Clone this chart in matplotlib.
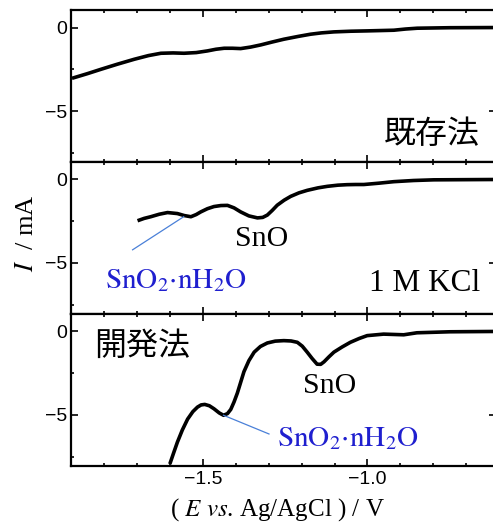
import matplotlib
matplotlib.use("Agg")
import matplotlib.pyplot as plt
from matplotlib.ticker import MultipleLocator
import numpy as np

plt.rcParams["mathtext.fontset"] = "stix"
plt.rcParams["font.family"] = ["Liberation Sans", "DejaVu Sans"]

# Curve data: potential (V vs Ag/AgCl) and current (mA)
e_existing = [-1.897, -1.85, -1.809, -1.76, -1.708, -1.665, -1.627, -1.59, -1.557, -1.52,
              -1.486, -1.46, -1.435, -1.41, -1.385, -1.355, -1.324, -1.29, -1.254, -1.21,
              -1.173, -1.14, -1.102, -1.05, -1.001, -0.96, -0.920, -0.885, -0.849, -0.75, -0.61]
i_existing = [-3.04, -2.76, -2.50, -2.20, -1.90, -1.68, -1.54, -1.52, -1.54, -1.50,
              -1.40, -1.30, -1.24, -1.24, -1.26, -1.17, -1.04, -0.87, -0.70, -0.53,
              -0.40, -0.32, -0.26, -0.22, -0.20, -0.18, -0.16, -0.09, -0.04, -0.01, 0.0]

e_kcl = [-1.698, -1.678, -1.658, -1.632, -1.607, -1.577, -1.556, -1.536, -1.52, -1.506,
         -1.486, -1.466, -1.445, -1.425, -1.405, -1.385, -1.36, -1.334, -1.318, -1.304,
         -1.289, -1.274, -1.253, -1.233, -1.208, -1.183, -1.15, -1.122, -1.09, -1.062,
         -1.036, -1.011, -0.965, -0.920, -0.86, -0.799, -0.61]
i_kcl = [-2.47, -2.33, -2.23, -2.08, -1.98, -2.04, -2.16, -2.23, -2.10, -1.94,
         -1.75, -1.62, -1.56, -1.55, -1.70, -1.94, -2.18, -2.30, -2.27, -2.13,
         -1.85, -1.54, -1.24, -1.01, -0.80, -0.65, -0.50, -0.41, -0.34, -0.31,
         -0.30, -0.30, -0.22, -0.13, -0.06, -0.02, 0.0]

e_new = [-1.600, -1.588, -1.577, -1.562, -1.546, -1.530, -1.516, -1.505, -1.494, -1.480,
         -1.466, -1.450, -1.437, -1.425, -1.415, -1.405, -1.395, -1.385, -1.375, -1.360,
         -1.344, -1.325, -1.304, -1.280, -1.254, -1.232, -1.213, -1.198, -1.183, -1.168,
         -1.153, -1.142, -1.132, -1.117, -1.102, -1.077, -1.052, -1.025, -1.001, -0.951,
         -0.890, -0.850, -0.75, -0.61]
i_new = [-7.94, -7.25, -6.63, -5.90, -5.25, -4.80, -4.53, -4.40, -4.37, -4.45,
         -4.63, -4.88, -5.02, -4.92, -4.67, -4.22, -3.69, -3.05, -2.41, -1.75,
         -1.24, -0.90, -0.69, -0.58, -0.55, -0.57, -0.65, -0.88, -1.24, -1.62,
         -1.96, -1.97, -1.82, -1.52, -1.24, -0.93, -0.65, -0.42, -0.25, -0.16,
         -0.20, -0.08, -0.02, 0.0]

x_limits = (-1.9, -0.61)
y_limits = (-8.05, 1.05)
x_major = [-1.5, -1.0]

fig = plt.figure(figsize=(4.93, 5.27), dpi=100)
left, right, top, bottom = 0.144, 1.006, 0.981, 0.116
h = (top - bottom) / 3
axes = [fig.add_axes([left, top - (k + 1) * h, right - left, h]) for k in range(3)]

for k, ax in enumerate(axes):
    ax.set_xlim(*x_limits)
    ax.set_ylim(*y_limits)
    ax.set_xticks(x_major)
    ax.xaxis.set_minor_locator(MultipleLocator(0.1))
    ax.set_yticks([0, -5])
    ax.yaxis.set_minor_locator(MultipleLocator(2.5))
    ax.tick_params(which="both", direction="in", top=True, right=True, width=1.2,
                   labelsize=14)
    ax.tick_params(which="major", length=5)
    ax.tick_params(which="minor", length=2.5)
    ax.tick_params(axis="y", pad=3)
    for s in ax.spines.values():
        s.set_linewidth(1.6)
    if k < 2:
        ax.tick_params(labelbottom=False)
    ax.set_xticklabels(["\u22121.5", "\u22121.0"])
    ax.set_yticklabels(["0", "\u22125"])

line_kw = dict(color="black", lw=2.6, solid_capstyle="butt")
serif = ["Liberation Serif", "DejaVu Serif"]
jp = ["Noto Sans CJK JP", "DejaVu Sans"]
blue = "#1f1fcf"
lead = "#4a80d8"
formula = r"$\mathrm{SnO_2{\cdot}nH_2O}$"

ax1, ax2, ax3 = axes
ax1.plot(e_existing, i_existing, **line_kw)
ax1.text(-0.658, -6.4, "既存法", family=jp, fontsize=23, ha="right", va="center")

ax2.plot(e_kcl, i_kcl, **line_kw)
ax2.plot([-1.558, -1.713], [-2.23, -4.21], color=lead, lw=0.9)
ax2.text(-1.796, -6.0, formula, fontsize=21, color=blue, ha="left", va="center")
ax2.text(-1.322, -3.58, "SnO", family=serif, fontsize=21.5, ha="center", va="center")
ax2.text(-0.658, -6.2, "1 M KCl", family=serif, fontsize=22.5, ha="right", va="center")

ax3.plot(e_new, i_new, **line_kw)
ax3.plot([-1.437, -1.299], [-5.02, -6.14], color=lead, lw=0.9)
ax3.text(-1.274, -6.39, formula, fontsize=21, color=blue, ha="left", va="center")
ax3.text(-1.115, -3.29, "SnO", family=serif, fontsize=21.5, ha="center", va="center")
ax3.text(-1.829, -0.88, "開発法", family=jp, fontsize=23, ha="left", va="center")

fig.text(0.055, 1 - 233 / 527, "$I$  / mA", family=serif, fontsize=19, rotation=90,
         ha="center", va="center")
fig.text(277 / 493, 1 - 510 / 527, "( $E$ $vs$. Ag/AgCl ) / V", family=serif, fontsize=18,
         ha="center", va="center")

fig.savefig("out.png", dpi=100)
